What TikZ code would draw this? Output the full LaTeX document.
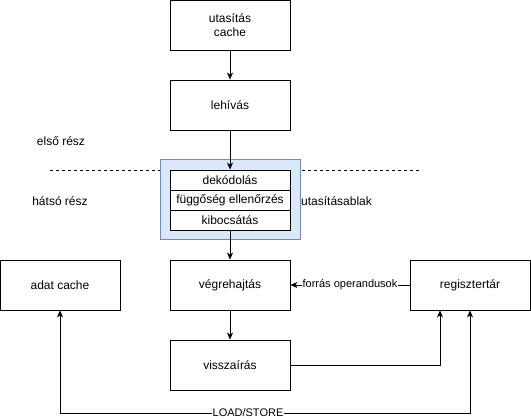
\documentclass[tikz,border=0pt]{standalone}
\usepackage{fontspec}
\setmainfont{Liberation Sans}
\usetikzlibrary{arrows.meta}
\definecolor{winfill}{HTML}{DAE8FC}
\definecolor{windraw}{HTML}{6C8EBF}
\begin{document}
\begin{tikzpicture}[x=1pt,y=-1pt,
  box/.style={draw, fill=white, line width=0.8pt, minimum width=120pt, minimum height=50pt, align=center, inner sep=0pt, font=\fontsize{12}{14}\selectfont},
  row/.style={draw, fill=white, line width=0.8pt, minimum width=120pt, minimum height=20pt, inner sep=0pt, font=\fontsize{12}{14}\selectfont},
  plain/.style={inner sep=0pt, font=\fontsize{12}{14}\selectfont},
  lbl/.style={fill=white, inner sep=1pt, font=\fontsize{11}{13}\selectfont},
  arr/.style={line width=0.8pt, -{Stealth[length=7pt,width=6pt,inset=2pt]}},
  arrb/.style={line width=0.8pt, {Stealth[length=7pt,width=6pt,inset=2pt]}-{Stealth[length=7pt,width=6pt,inset=2pt]}}
]
\useasboundingbox (0,0) rectangle (531,419);
% dashed separator
\coordinate (dl) at (50,170);
\coordinate (dr) at (420,170);
\draw[dashed, dash pattern=on 3pt off 3pt, line width=0.7pt] (dl) -- (dr);
% nodes
\node[box] (ic) at (230,25) {utasítás\\cache};
\node[box] (fetch) at (230,105) {lehívás};
\node[draw=windraw, fill=winfill, line width=1pt, minimum width=140pt, minimum height=80pt, inner sep=0pt] (win) at (230,200) {};
\node[row] (dec) at (230,180) {dekódolás};
\node[row] (dep) at (230,200) {függőség ellenőrzés};
\node[row] (iss) at (230,220) {kibocsátás};
\node[plain, anchor=west] (winl) at (301,201) {utasításablak};
\node[plain] (elso) at (61,141) {első rész};
\node[plain] (hatso) at (60,201) {hátsó rész};
\node[box] (exec) at (230,285) {végrehajtás};
\node[box] (adat) at (60,285) {adat cache};
\node[box] (reg) at (470,285) {regisztertár};
\node[box] (wb) at (230,365) {visszaírás};
% connectors
\draw[arr] (ic) -- (fetch);
\draw[arr] (fetch) -- (dec);
\draw[arr] (iss) -- (exec);
\draw[arr] (exec) -- (wb);
\draw[arr] (reg) -- node[lbl] {forrás operandusok} (exec);
\draw[arr] (wb) -| ([xshift=-30pt]reg.south);
\draw[arrb] (adat.south) -- ++(0,103) coordinate (ls1) -| (reg.south);
\node[lbl] (ls) at (248,413) {LOAD/STORE};
\end{tikzpicture}
\end{document}
